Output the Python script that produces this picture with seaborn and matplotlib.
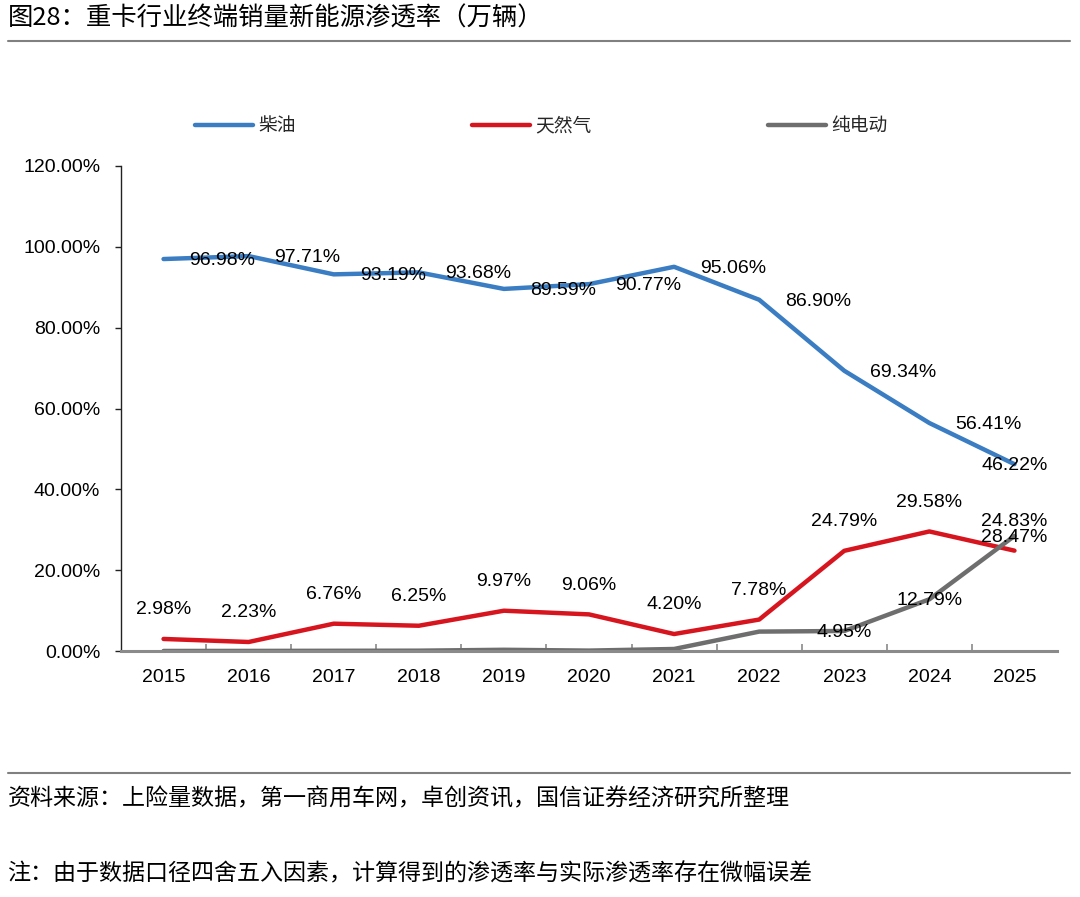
import matplotlib
matplotlib.use("Agg")
import numpy as np
import pandas as pd
import matplotlib.pyplot as plt
import seaborn as sns
from matplotlib.lines import Line2D
from matplotlib.ticker import FixedLocator, FuncFormatter

# ---------------- data ----------------
years = ["2015", "2016", "2017", "2018", "2019", "2020", "2021", "2022", "2023", "2024", "2025"]
series_names = ["柴油", "天然气", "纯电动"]
diesel = [96.98, 97.71, 93.19, 93.68, 89.59, 90.77, 95.06, 86.90, 69.34, 56.41, 46.22]
gas = [2.98, 2.23, 6.76, 6.25, 9.97, 9.06, 4.20, 7.78, 24.79, 29.58, 24.83]
electric = [0.01, 0.02, 0.05, 0.08, 0.30, 0.10, 0.50, 4.80, 4.95, 12.79, 28.47]
electric_labeled = [False, False, False, False, False, False, False, False, True, True, True]
y_ticks = [0, 20, 40, 60, 80, 100, 120]

title = "图28：重卡行业终端销量新能源渗透率（万辆）"
source = "资料来源：上险量数据，第一商用车网，卓创资讯，国信证券经济研究所整理"
note = "注：由于数据口径四舍五入因素，计算得到的渗透率与实际渗透率存在微幅误差"

colors = {"柴油": "#3A7DC2", "天然气": "#D7151F", "纯电动": "#6E6E6E"}

# ---------------- style ----------------
sns.set_theme(style="white")
plt.rcParams["font.family"] = ["Liberation Sans", "Noto Sans CJK SC", "DejaVu Sans"]
CJK = ["Noto Sans CJK SC", "DejaVu Sans"]

W, H = 1080, 897
fig = plt.figure(figsize=(W / 100, H / 100), dpi=100)
fig.patch.set_facecolor("white")
ax = fig.add_axes([121 / W, 1 - 651 / H, (1057 - 121) / W, (651 - 166) / H])

pos = list(range(len(years)))
df = pd.DataFrame({
    "pos": pos * 3,
    "val": diesel + gas + electric,
    "series": [series_names[0]] * len(years) + [series_names[1]] * len(years) + [series_names[2]] * len(years),
})

sns.lineplot(data=df, x="pos", y="val", hue="series", hue_order=series_names,
             palette=colors, linewidth=3.2, legend=False, ax=ax, sort=False)
for ln in ax.lines:
    ln.set_solid_capstyle("round")
    ln.set_solid_joinstyle("round")

# ---------------- axes ----------------
ax.set_xlim(-0.5, len(years) - 0.5)
ax.set_ylim(0, 120)
ax.set_xlabel("")
ax.set_ylabel("")
for s in ["top", "right"]:
    ax.spines[s].set_visible(False)
ax.spines["left"].set_color("#222222")
ax.spines["left"].set_linewidth(1.0)
ax.spines["bottom"].set_color("#8A8A8A")
ax.spines["bottom"].set_linewidth(2.2)

ax.yaxis.set_major_locator(FixedLocator(y_ticks))
ax.yaxis.set_major_formatter(FuncFormatter(lambda v, p: f"{v:.2f}%"))
ax.tick_params(axis="y", direction="out", length=4, width=1.0, color="#222222",
               pad=11, labelsize=14, labelcolor="#000000", left=True)

ax.xaxis.set_major_locator(FixedLocator([p + 0.5 for p in pos[:-1]]))
ax.xaxis.set_major_formatter(FuncFormatter(lambda v, p: ""))
ax.xaxis.set_minor_locator(FixedLocator(pos))
ax.xaxis.set_minor_formatter(FuncFormatter(lambda v, p: years[int(round(v))]))
ax.tick_params(axis="x", which="major", direction="in", length=5, width=1.2, color="#8A8A8A", bottom=True)
ax.tick_params(axis="x", which="minor", length=0, pad=13, labelsize=14, labelcolor="#000000", bottom=True)
ax.grid(False)

# ---------------- data labels ----------------
last = len(years) - 1
for i, v in enumerate(diesel):
    dx = 42.5 if i != last else 0
    ax.annotate(f"{v:.2f}%", (pos[i], v), xytext=(dx, -1), textcoords="offset points",
                ha="center", va="center", fontsize=14, color="#000000")
for i, v in enumerate(gas):
    ax.annotate(f"{v:.2f}%", (pos[i], v), xytext=(0, 21), textcoords="offset points",
                ha="center", va="center", fontsize=14, color="#000000")
for i, v in enumerate(electric):
    if electric_labeled[i]:
        ax.annotate(f"{v:.2f}%", (pos[i], v), xytext=(0, -1), textcoords="offset points",
                    ha="center", va="center", fontsize=14, color="#000000")

# ---------------- legend ----------------
handles = [Line2D([0], [0], color=colors[n], lw=3.2) for n in series_names]
leg = fig.legend(handles, series_names, loc="center", bbox_to_anchor=(541 / W, 1 - 126 / H),
                 ncol=3, frameon=False, handlelength=3.1, handletextpad=0.27,
                 columnspacing=9.4, borderpad=0, borderaxespad=0,
                 prop={"family": CJK, "size": 13.5})

# ---------------- title, rules, footnotes ----------------
fig.text(8 / W, 1 - 19 / H, title, ha="left", va="center", fontsize=18.3, family=CJK,
         fontweight="medium", color="#000000")
fig.add_artist(Line2D([8 / W, 1070 / W], [1 - 41 / H] * 2, color="#808080", lw=1.5))
fig.add_artist(Line2D([8 / W, 1070 / W], [1 - 773 / H] * 2, color="#808080", lw=1.5))
fig.text(8 / W, 1 - 799 / H, source, ha="left", va="center", fontsize=16.6, family=CJK, color="#000000")
fig.text(8 / W, 1 - 874 / H, note, ha="left", va="center", fontsize=16.6, family=CJK, color="#000000")

fig.savefig("out.png", dpi=100, facecolor="white")
